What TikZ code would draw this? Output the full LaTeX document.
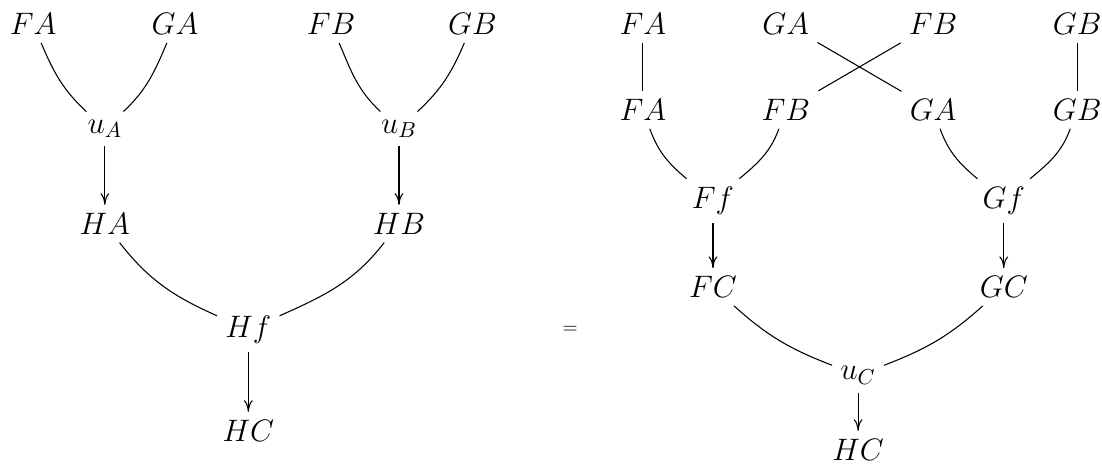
\documentclass[tikz,border=0pt]{standalone}
\usepackage{fix-cm}
\usetikzlibrary{positioning,arrows.meta}
\begin{document}
\begin{tikzpicture}[obj/.style = {font=\fontsize{16}{19}\selectfont, inner sep=4pt}, on grid, line width=0.55pt, >={To[length=6pt, width=4.6pt]}]
        \useasboundingbox (0,0) rectangle (19.97,-8.43);
        % left hand side
        \node[obj] (lFA) at (0.6,-0.435) {$FA$};
        \node[obj] (lGA) [right=2.57cm of lFA] {$GA$};
        \node[obj] (lFB) [right=2.83cm of lGA] {$FB$};
        \node[obj] (lGB) [right=2.56cm of lFB] {$GB$};
        \node[obj] (uA) [below right=1.9cm and 1.3cm of lFA] {$u_A$};
        \node[obj] (uB) [below right=1.9cm and 1.23cm of lFB] {$u_B$};
        \node[obj] (HA) [below=1.72cm of uA] {$HA$};
        \node[obj] (HB) [below=1.72cm of uB] {$HB$};
        \node[obj] (Hf) [below right=1.92cm and 2.6cm of HA] {$Hf$};
        \node[obj] (lHC) [below=1.83cm of Hf] {$HC$};
        %
        \node (eq) [right=5.83cm of Hf] {$=$};
        % right hand side
        \node[obj] (rFA) at (11.65,-0.435) {$FA$};
        \node[obj] (rGA) [right=2.59cm of rFA] {$GA$};
        \node[obj] (rFB) [right=2.67cm of rGA] {$FB$};
        \node[obj] (rGB) [right=2.61cm of rFB] {$GB$};
        \node[obj] (sFA) [below=1.555cm of rFA] {$FA$};
        \node[obj] (sFB) [below=1.555cm of rGA] {$FB$};
        \node[obj] (sGA) [below=1.555cm of rFB] {$GA$};
        \node[obj] (sGB) [below=1.555cm of rGB] {$GB$};
        \node[obj] (Ff) [below right=1.65cm and 1.27cm of sFA] {$Ff$};
        \node[obj] (Gf) [below right=1.65cm and 1.28cm of sGA] {$Gf$};
        \node[obj] (FC) [below=1.56cm of Ff] {$FC$};
        \node[obj] (GC) [below=1.56cm of Gf] {$GC$};
        \node[obj] (uC) [below right=1.6cm and 2.63cm of FC] {$u_C$};
        \node[obj] (rHC) [below=1.35cm of uC] {$HC$};
        %
        \draw (lFA) to[out=-67, in=137] (uA);
        \draw (lGA) to[out=-113, in=43] (uA);
        \draw (lFB) to[out=-67, in=137] (uB);
        \draw (lGB) to[out=-113, in=43] (uB);
        \draw[->] (uA) -- (HA);
        \draw[->] (uB) -- (HB);
        \draw (HA) to[out=-52, in=156] (Hf);
        \draw (HB) to[out=-128, in=24] (Hf);
        \draw[->] (Hf) -- (lHC);
        %
        \draw (rFA) -- (sFA);
        \draw (rGA) -- (sGA);
        \draw (rFB) -- (sFB);
        \draw (rGB) -- (sGB);
        \draw (sFA) to[out=-70, in=140] (Ff);
        \draw (sFB) to[out=-110, in=40] (Ff);
        \draw (sGA) to[out=-70, in=140] (Gf);
        \draw (sGB) to[out=-110, in=40] (Gf);
        \draw[->] (Ff) -- (FC);
        \draw[->] (Gf) -- (GC);
        \draw (FC) to[out=-42, in=159] (uC);
        \draw (GC) to[out=-138, in=21] (uC);
        \draw[->] (uC) -- (rHC);
      \end{tikzpicture}
\end{document}
